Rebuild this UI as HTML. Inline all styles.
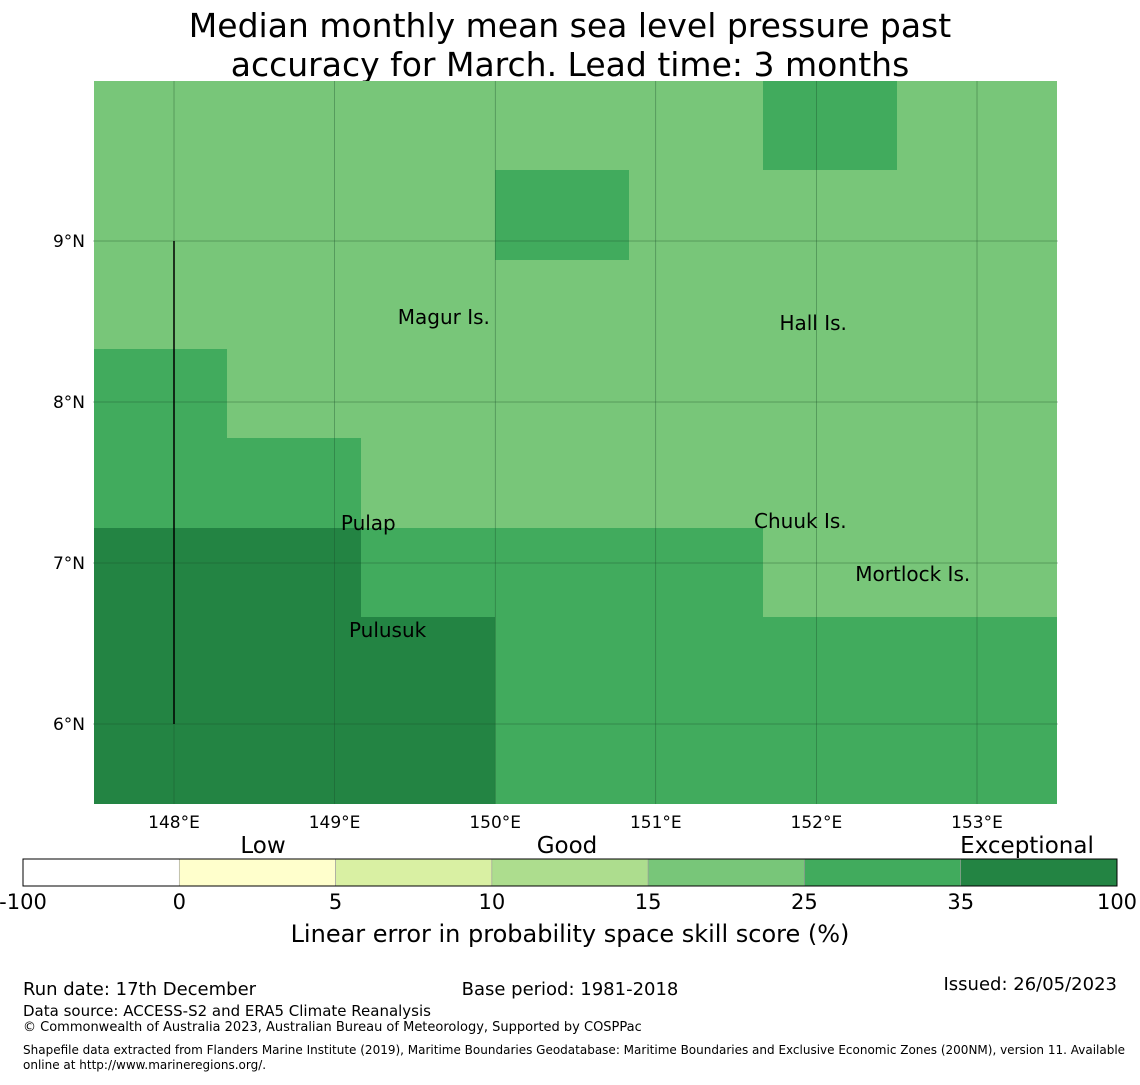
<!DOCTYPE html>
<html><head><meta charset="utf-8"><style>
body{margin:0;background:#fff;font-family:"Liberation Sans","DejaVu Sans",sans-serif;}
svg text{font-family:"DejaVu Sans","Liberation Sans",sans-serif;}
</style></head><body>
<svg id="c" width="1140" height="1080" xmlns="http://www.w3.org/2000/svg">
<text x="570" y="37" font-size="33" text-anchor="middle">Median monthly mean sea level pressure past</text>
<text x="570" y="76" font-size="33" text-anchor="middle">accuracy for March. Lead time: 3 months</text>
<g id="map"></g>
<g id="cb"></g>
<text x="570" y="942" font-size="24" text-anchor="middle">Linear error in probability space skill score (%)</text>
<text x="263" y="853" font-size="23" text-anchor="middle">Low</text>
<text x="567" y="853" font-size="23" text-anchor="middle">Good</text>
<text x="1027" y="853" font-size="23" text-anchor="middle">Exceptional</text>
<text x="23" y="995" font-size="18">Run date: 17th December</text>
<text x="570" y="995" font-size="18" text-anchor="middle">Base period: 1981-2018</text>
<text x="1117" y="990" font-size="18" text-anchor="end">Issued: 26/05/2023</text>
<text x="23" y="1016" font-size="15">Data source: ACCESS-S2 and ERA5 Climate Reanalysis</text>
<text x="23" y="1031" font-size="13">© Commonwealth of Australia 2023, Australian Bureau of Meteorology, Supported by COSPPac</text>
<text x="23" y="1054" font-size="12">Shapefile data extracted from Flanders Marine Institute (2019), Maritime Boundaries Geodatabase: Maritime Boundaries and Exclusive Economic Zones (200NM), version 11. Available</text>
<text x="23" y="1069" font-size="12">online at http://www.marineregions.org/.</text>
</svg>
<script>
const NS="http://www.w3.org/2000/svg";
const binEdges=[-100,0,5,10,15,25,35,100];
const binColors=["#ffffff","#ffffcc","#d9f0a3","#addd8e","#78c679","#41ab5d","#238443"];
const lonTicks=[148,149,150,151,152,153];
const latTicks=[9,8,7,6];
const cellLonEdges=[147.5,148.333,149.167,150,150.833,151.667,152.5,153.5];
const cellLatEdges=[9.995,9.44,8.885,8.33,7.775,7.22,6.665,6.11,5.5];
const skillRows=[
[20,20,20,20,20,30,20],
[20,20,20,30,20,20,20],
[20,20,20,20,20,20,20],
[30,20,20,20,20,20,20],
[30,30,20,20,20,20,20],
[40,40,30,30,30,20,20],
[40,40,40,30,30,30,30],
[40,40,40,30,30,30,30]];
const islands=[["Magur Is.",149.68,8.578],["Hall Is.",151.98,8.54],["Pulap",149.21,7.298],["Chuuk Is.",151.9,7.31],["Mortlock Is.",152.6,6.98],["Pulusuk",149.33,6.634]];
const X0=93,X1=1058,Y0=81,Y1=804;
const xS=l=>174+(l-148)*160.6;
const yS=l=>241+(9-l)*161;
function colorOf(v){for(let i=0;i<binColors.length;i++){if(v<binEdges[i+1])return binColors[i];}return binColors[binColors.length-1];}
function mk(t,a,p){const e=document.createElementNS(NS,t);for(const k in a)e.setAttribute(k,a[k]);p.appendChild(e);return e;}
const map=document.getElementById('map');
skillRows.forEach((row,r)=>row.forEach((v,c)=>{
 const x0=Math.round(Math.max(X0,xS(cellLonEdges[c]))),x1=Math.round(Math.min(X1,xS(cellLonEdges[c+1])));
 const y0=Math.round(Math.max(Y0,yS(cellLatEdges[r]))),y1=Math.round(Math.min(Y1,yS(cellLatEdges[r+1])));
 const e=mk('rect',{x:x0,y:y0,width:x1-x0,height:y1-y0,fill:colorOf(v),'shape-rendering':'crispEdges'},map);
 
 
}));
lonTicks.forEach(l=>{
 const x=xS(l);
 const g=mk('line',{x1:x,x2:x,y1:Y0,y2:Y1,stroke:'#1a4d2a','stroke-width':0.5,'stroke-opacity':0.7},map);
 
 
 const t=mk('text',{x:x,y:828,'font-size':17,'text-anchor':'middle'},map);t.textContent=l+'°E';
 
 
});
latTicks.forEach(l=>{
 const y=yS(l);
 const g=mk('line',{x1:X0,x2:X1,y1:y,y2:y,stroke:'#1a4d2a','stroke-width':0.5,'stroke-opacity':0.7},map);
 
 
 const t=mk('text',{x:85,y:y+6,'font-size':17,'text-anchor':'end'},map);t.textContent=l+'°N';
 
 
});
const bl=mk('line',{x1:xS(148),x2:xS(148),y1:yS(9),y2:yS(6),stroke:'#000','stroke-width':1.5},map);


islands.forEach(d=>{
 const t=mk('text',{x:xS(d[1]),y:yS(d[2])+15,'font-size':20,'text-anchor':'middle'},map);t.textContent=d[0];
 
 
});
const cb=document.getElementById('cb');
const cbX=23,cbW=1094,n=binColors.length,sw=cbW/n;
binColors.forEach((c,i)=>{
 const e=mk('rect',{x:cbX+i*sw,y:859,width:sw,height:27,fill:c,stroke:'#999','stroke-width':0.6},cb);
 
 
});
mk('rect',{x:cbX,y:859,width:cbW,height:27,fill:'none',stroke:'#000','stroke-width':1},cb);
binEdges.forEach((v,i)=>{
 const t=mk('text',{x:cbX+i*sw,y:909,'font-size':21,'text-anchor':'middle'},cb);t.textContent=v;
 
 
});
</script>
</body></html>
